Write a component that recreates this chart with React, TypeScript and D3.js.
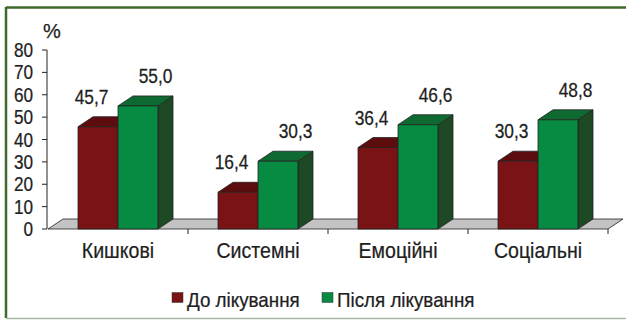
import React from "react";
import * as d3 from "d3";

const categories = ["Кишкові", "Системні", "Емоційні", "Соціальні"];
const seriesNames = ["До лікування", "Після лікування"];
const before = [45.7, 16.4, 36.4, 30.3];
const after = [55.0, 30.3, 46.6, 48.8];
const yTicks = [0, 10, 20, 30, 40, 50, 60, 70, 80];

const W = 626;
const H = 320;
const FONT = "'Liberation Sans', Arial, sans-serif";

const colors = [
  { front: "#7a1315", top: "#5e0d0f", side: "#4a0a0c" },
  { front: "#078a42", top: "#0e6a30", side: "#1d4a25" },
];

const DX = 15;
const DY = -10;

function T(props: {
  x: number;
  y: number;
  size: number;
  sx?: number;
  anchor?: "start" | "middle" | "end";
  children: React.ReactNode;
}) {
  const { x, y, size, sx = 0.9, anchor = "start", children } = props;
  return (
    <text
      transform={`translate(${x},${y}) scale(${sx},1)`}
      textAnchor={anchor}
      fontSize={size}
      fill="#1e1e1e"
      stroke="#1e1e1e"
      strokeWidth={0.25}
    >
      {children}
    </text>
  );
}

export default function App() {
  const x0 = d3
    .scaleBand<string>()
    .domain(categories)
    .range([48, 608])
    .paddingInner(60 / 140)
    .paddingOuter(30 / 140);
  const x1 = d3.scaleBand<string>().domain(seriesNames).range([0, x0.bandwidth()]);
  const y = d3.scaleLinear().domain([0, 80]).range([229, 50]);
  const step = x0.step();
  const left = x0.range()[0];
  const right = x0.range()[1];
  const base = y(0);

  const data = [before, after];
  const labelShift = [-14, 10];

  const bars: React.ReactNode[] = [];
  const labels: React.ReactNode[] = [];
  categories.forEach((c, ci) => {
    seriesNames.forEach((s, si) => {
      const v = data[si][ci];
      const bx = (x0(c) as number) + (x1(s) as number);
      const bw = x1.bandwidth();
      const ty = y(v);
      const col = colors[si];
      bars.push(
        <g key={`${c}-${s}`} stroke="#222" strokeWidth={0.8} strokeLinejoin="round">
          <polygon
            points={`${bx + bw},${ty} ${bx + bw + DX},${ty + DY} ${bx + bw + DX},${base + DY} ${bx + bw},${base}`}
            fill={col.side}
          />
          <polygon
            points={`${bx},${ty} ${bx + DX},${ty + DY} ${bx + bw + DX},${ty + DY} ${bx + bw},${ty}`}
            fill={col.top}
          />
          <rect x={bx} y={ty} width={bw} height={base - ty} fill={col.front} />
        </g>
      );
      labels.push(
        <T
          key={`l-${c}-${s}`}
          x={bx + bw / 2 + DX / 2 + labelShift[si]}
          y={ty - 23}
          anchor="middle"
          size={19.5}
          sx={0.89}
        >
          {v.toFixed(1).replace(".", ",")}
        </T>
      );
    });
  });

  return (
    <svg
      width={W}
      height={H}
      style={{ position: "absolute", left: 0, top: 0, fontFamily: FONT }}
    >
      <rect x={0} y={0} width={W} height={H} fill="#ffffff" />
      {/* frame */}
      <line x1={6} y1={7.5} x2={W} y2={7.5} stroke="#3f6a2e" strokeWidth={2.5} />
      <line x1={6} y1={7} x2={6} y2={318} stroke="#3f6a2e" strokeWidth={2.5} />
      <line x1={6} y1={318.5} x2={W} y2={318.5} stroke="#a9b8a0" strokeWidth={1.5} />

      {/* floor */}
      <polygon
        points={`${left},${base} ${right},${base} ${right + DX},${base + DY} ${left + DX},${base + DY}`}
        fill="#c3c3c3"
        stroke="#222"
        strokeWidth={0.8}
      />

      {/* y axis */}
      <line x1={47} y1={y(80)} x2={47} y2={base} stroke="#222" strokeWidth={1} />
      {yTicks.map((t) => (
        <g key={t}>
          <line x1={42} y1={y(t)} x2={47} y2={y(t)} stroke="#222" strokeWidth={1} />
          <T x={33} y={y(t) + 7} anchor="end" size={19.5} sx={0.88}>
            {t}
          </T>
        </g>
      ))}
      <T x={43} y={38} size={20} sx={1}>
        %
      </T>

      {/* category ticks */}
      {categories.map((c, i) => (
        <line
          key={`t-${c}`}
          x1={left + step * (i + 1)}
          y1={base}
          x2={left + step * (i + 1)}
          y2={base + 5}
          stroke="#222"
          strokeWidth={1}
        />
      ))}

      {bars}
      {labels}

      {categories.map((c) => (
        <T
          key={`c-${c}`}
          x={(x0(c) as number) + x0.bandwidth() / 2}
          y={257.5}
          anchor="middle"
          size={21.5}
          sx={0.91}
        >
          {c}
        </T>
      ))}

      {/* legend */}
      {seriesNames.map((s, i) => {
        const lx = [172, 322][i];
        return (
          <g key={`lg-${s}`}>
            <rect x={lx} y={292.5} width={11} height={10} fill={colors[i].front} stroke="#333" strokeWidth={0.5} />
            <T x={lx + 15} y={306.5} size={20} sx={0.94}>
              {s}
            </T>
          </g>
        );
      })}
    </svg>
  );
}
